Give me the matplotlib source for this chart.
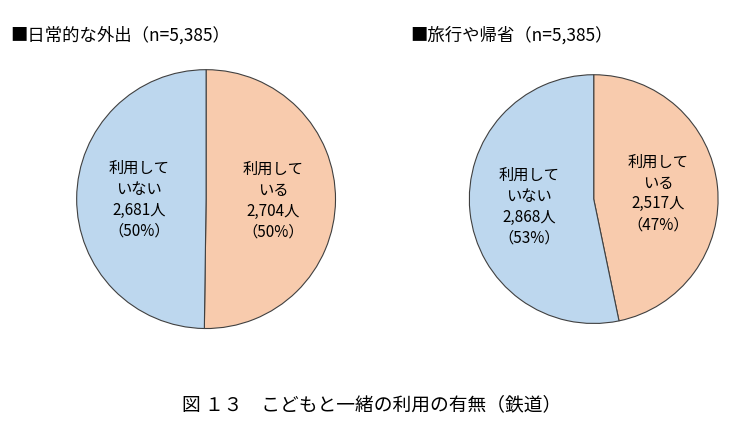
import matplotlib
matplotlib.use('Agg')
import matplotlib.pyplot as plt
import numpy as np

plt.rcParams['font.family'] = ['Noto Sans CJK JP', 'DejaVu Sans']

titles = ['■日常的な外出（n=5,385）', '■旅行や帰省（n=5,385）']
labels_use = ['利用して\nいる', '利用して\nいない']
counts_daily = [2704, 2681]
counts_trip = [2517, 2868]
caption = '図 １３　こどもと一緒の利用の有無（鉄道）'

colors = ['#F8CBAD', '#BDD7EE']

fig = plt.figure(figsize=(7.44, 4.35), dpi=100)

def draw(rect, counts, title, tx):
    ax = fig.add_axes(rect)
    total = sum(counts)
    wedges, _ = ax.pie(counts, colors=colors, startangle=90, counterclock=False,
                       wedgeprops=dict(edgecolor='#404040', linewidth=0.8))
    for w, c, lab in zip(wedges, counts, labels_use):
        ang = (w.theta1 + w.theta2) / 2
        r = 0.52
        x = r * np.cos(np.radians(ang))
        y = r * np.sin(np.radians(ang))
        pct = round(c / total * 100)
        ax.text(x, y, f'{lab}\n{c:,}人\n（{pct}%）', ha='center', va='center',
                fontsize=11, linespacing=1.3)
    ax.set_xlim(-1.005, 1.005)
    ax.set_ylim(-1.005, 1.005)
    ax.set_aspect('equal')
    fig.text(tx, 1 - 35 / 435, title, fontsize=12.5, ha='left', va='center')

draw([0.277 - 0.175, 0.54 - 0.299, 0.35, 0.598], counts_daily, titles[0], 10 / 744)
draw([0.798 - 0.168, 0.54 - 0.2875, 0.336, 0.575], counts_trip, titles[1], 410 / 744)

fig.text(0.5, 1 - 405 / 435, caption, fontsize=13.5, ha='center', va='center')

fig.savefig('out.png', dpi=100)
